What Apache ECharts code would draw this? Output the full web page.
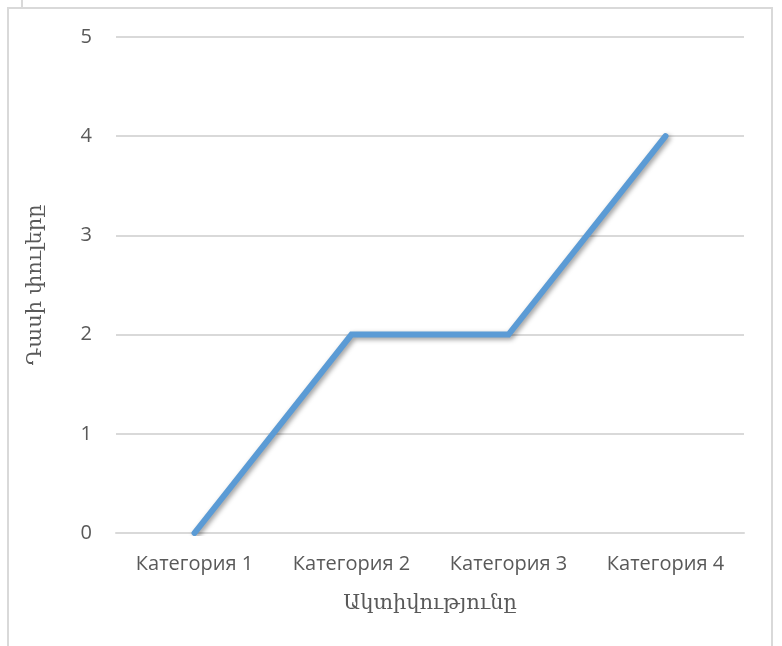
<!DOCTYPE html>
<html>
<head>
<meta charset="utf-8">
<script src="https://cdn.jsdelivr.net/npm/echarts@6/dist/echarts.min.js"></script>
<style>
  html, body { margin: 0; padding: 0; background: #fff; }
  #chart { width: 782px; height: 646px; }
</style>
</head>
<body>
<div id="chart"></div>
<script>
const categories = ["Категория 1", "Категория 2", "Категория 3", "Категория 4"];
const values = [0, 2, 2, 4];
const xName = "Ակտիվությունը";
const yName = "Դասի փուլերը";

const chartDom = document.getElementById("chart");
const chart = echarts.init(chartDom);

const option = {
  animation: false,
  graphic: [
    // cell/frame lines like the spreadsheet border
    { type: "rect", shape: { x: 8, y: 8, width: 764, height: 700 }, style: { fill: "none", stroke: "#d9d9d9", lineWidth: 2 } },
    { type: "line", shape: { x1: 22, y1: 0, x2: 22, y2: 8 }, style: { stroke: "#d9d9d9", lineWidth: 2 } }
  ],
  grid: { left: 116, right: 38, top: 37, bottom: 113 },
  xAxis: {
    type: "category",
    data: categories,
    boundaryGap: true,
    name: xName,
    nameLocation: "middle",
    nameGap: 60,
    nameTextStyle: { fontFamily: "DejaVu Serif", fontSize: 21, color: "#595959" },
    axisLine: { show: true, lineStyle: { color: "#d9d9d9", width: 2 } },
    axisTick: { show: false },
    axisLabel: { fontFamily: "Open Sans", fontSize: 20, color: "#595959", margin: 21 }
  },
  yAxis: {
    type: "value",
    min: 0, max: 5, interval: 1,
    name: yName,
    nameLocation: "middle",
    nameGap: 70,
    nameRotate: 90,
    nameTextStyle: { fontFamily: "DejaVu Serif", fontSize: 21, color: "#595959" },
    axisLine: { show: false },
    axisTick: { show: false },
    axisLabel: { fontFamily: "Open Sans", fontSize: 20, color: "#595959", margin: 24 },
    splitLine: { lineStyle: { color: "#d9d9d9", width: 2 } }
  },
  series: [{
    type: "line",
    data: values,
    symbol: "none",
    lineStyle: {
      color: "#5b9bd5", width: 6, cap: "round", join: "miter",
      shadowColor: "rgba(0,0,0,0.4)", shadowBlur: 5, shadowOffsetX: 2, shadowOffsetY: 2
    }
  }]
};

chart.setOption(option);
</script>
</body>
</html>
